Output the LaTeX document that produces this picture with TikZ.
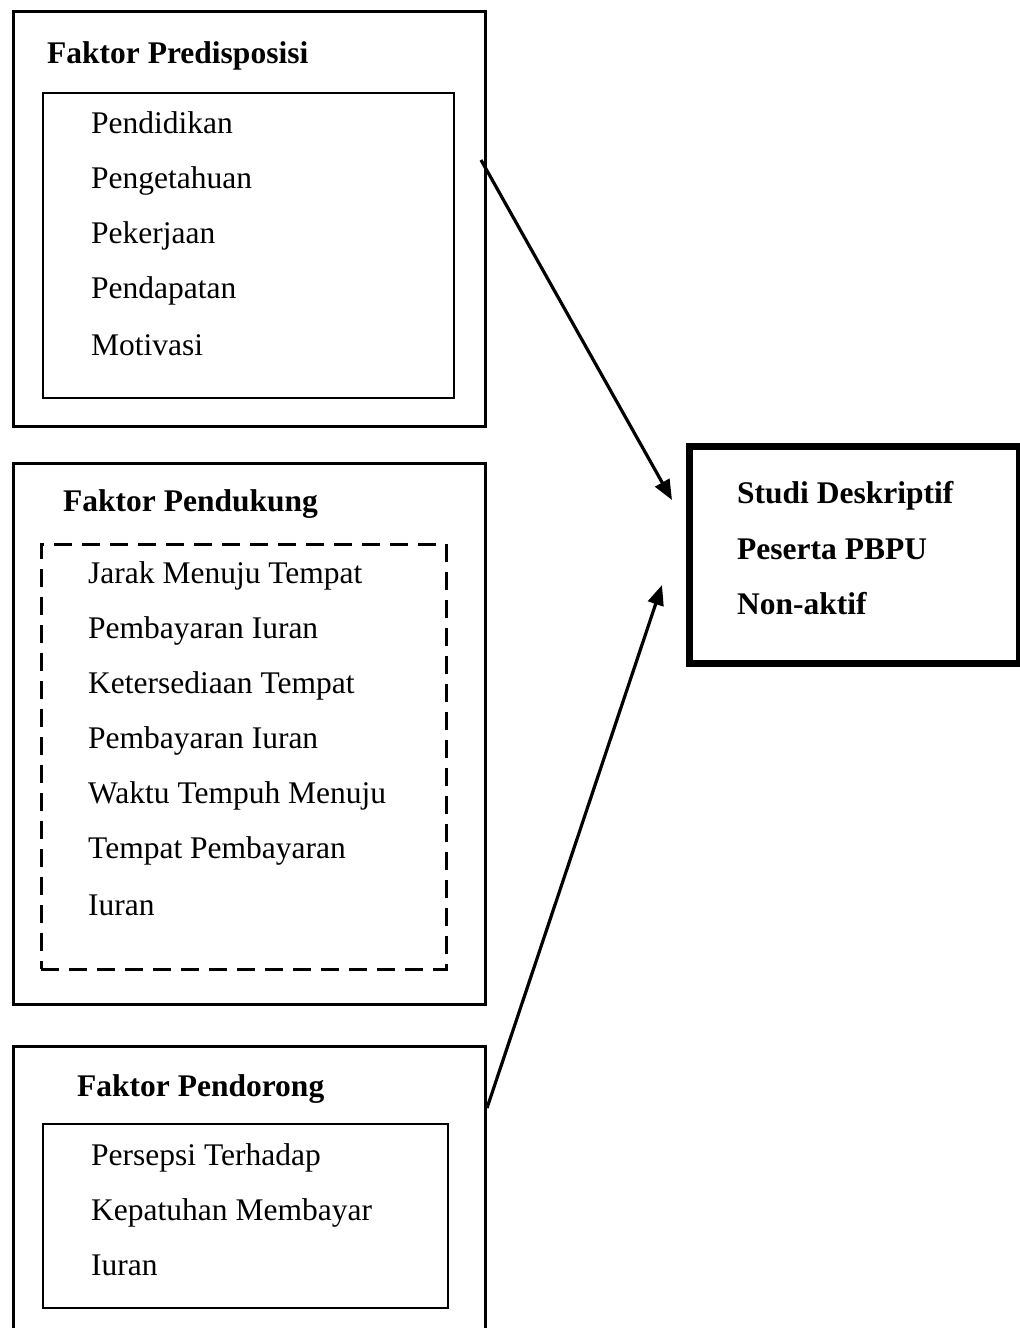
\documentclass[tikz,border=0pt]{standalone}
\usepackage{fontspec}
\setmainfont{Liberation Serif}
\usetikzlibrary{arrows.meta, positioning, calc}

\tikzset{
  outerbox/.style={draw, line width=3pt, minimum width=472pt, anchor=north west, inner sep=0pt},
  innerbox/.style={draw, line width=2pt, anchor=north west, inner sep=0pt},
  putusbox/.style={draw, line width=2.5pt, dash pattern=on 18pt off 10pt, anchor=north west, inner sep=0pt},
  judul/.style={anchor=base west, inner sep=0pt, font=\fontsize{31.5}{38}\selectfont\bfseries},
  isi/.style={anchor=base west, inner sep=0pt, font=\fontsize{31.5}{38}\selectfont},
  panah/.style={line width=3.2pt, -{Triangle[length=20pt,width=16pt]}}
}

\begin{document}
\begin{tikzpicture}[x=1pt,y=-1pt]
  \useasboundingbox (0,0) rectangle (1020,1328);

  % Faktor Predisposisi
  \node[outerbox, minimum height=415pt] (predis) at (12,10) {};
  \node[innerbox, minimum width=411pt, minimum height=305pt] (predisisi) at (42,92) {};
  \node[judul] (predisjudul) at (47,63) {Faktor Predisposisi};
  \node[isi] (pendidikan) at (91,133) {Pendidikan};
  \node[isi] (pengetahuan) at (91,188) {Pengetahuan};
  \node[isi] (pekerjaan) at (91,243) {Pekerjaan};
  \node[isi] (pendapatan) at (91,298) {Pendapatan};
  \node[isi] (motivasi) at (91,355) {Motivasi};

  % Faktor Pendukung
  \node[outerbox, minimum height=541pt] (dukung) at (12,462) {};
  \node[putusbox, minimum width=405pt, minimum height=425pt] (dukungisi) at (40,543) {};
  \node[judul] (dukungjudul) at (63,511) {Faktor Pendukung};
  \node[isi] (jarak) at (88,583) {Jarak Menuju Tempat};
  \node[isi] (bayar1) at (88,638) {Pembayaran Iuran};
  \node[isi] (sedia) at (88,693) {Ketersediaan Tempat};
  \node[isi] (bayar2) at (88,748) {Pembayaran Iuran};
  \node[isi] (waktu) at (88,803) {Waktu Tempuh Menuju};
  \node[isi] (tempat) at (88,858) {Tempat Pembayaran};
  \node[isi] (iuran1) at (88,915) {Iuran};

  % Faktor Pendorong
  \node[outerbox, minimum height=300pt] (dorong) at (12,1045) {};
  \node[innerbox, minimum width=405pt, minimum height=184pt] (dorongisi) at (42,1123) {};
  \node[judul] (dorongjudul) at (77,1096) {Faktor Pendorong};
  \node[isi] (persepsi) at (91,1165) {Persepsi Terhadap};
  \node[isi] (patuh) at (91,1220) {Kepatuhan Membayar};
  \node[isi] (iuran2) at (91,1275) {Iuran};

  % Studi Deskriptif
  \node[draw, line width=7pt, anchor=north west, inner sep=0pt, minimum width=330pt, minimum height=217pt] (studi) at (686,443) {};
  \node[judul] (studi1) at (737,503) {Studi Deskriptif};
  \node[judul] (studi2) at (737,559) {Peserta PBPU};
  \node[judul] (studi3) at (737,614) {Non-aktif};

  % Panah
  \draw[panah] ($(predis.north east)+(-6,150)$) -- ($(studi.north west)+(-14,57)$);
  \draw[panah] ($(dorong.north east)+(0,63)$) -- ($(studi.north west)+(-24,142)$);
\end{tikzpicture}
\end{document}
